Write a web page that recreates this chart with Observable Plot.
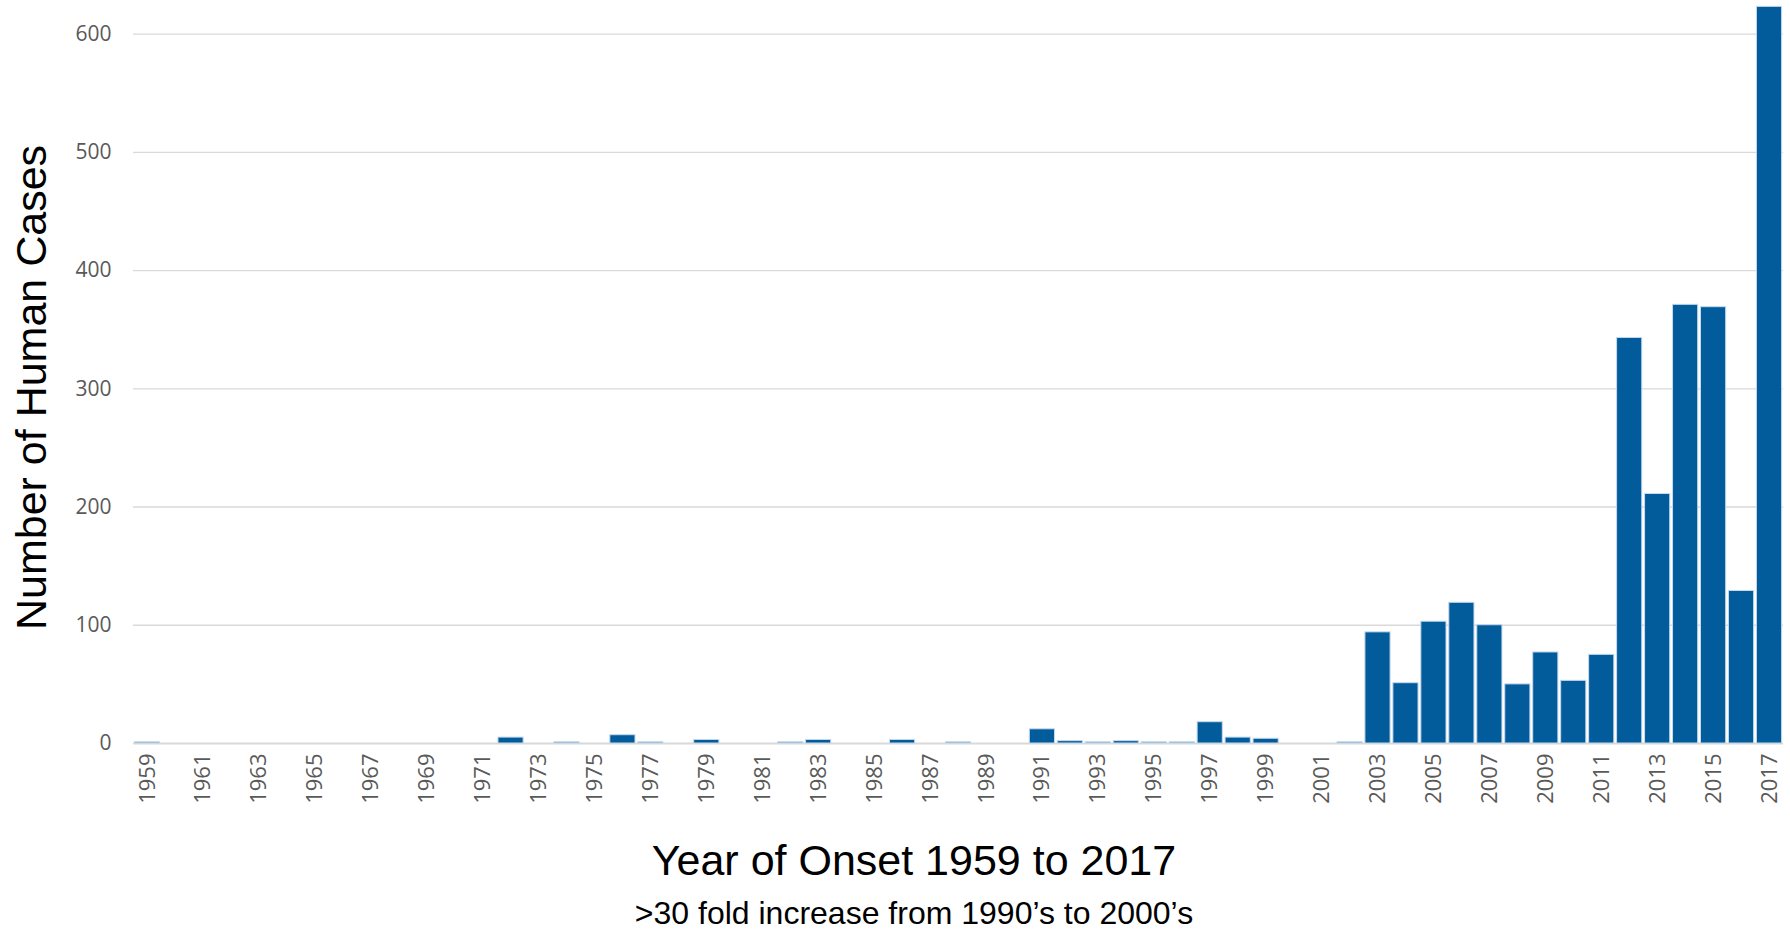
<!DOCTYPE html>
<html>
<head>
<meta charset="utf-8">
<script src="https://cdn.jsdelivr.net/npm/d3@7"></script>
<script src="https://cdn.jsdelivr.net/npm/@observablehq/plot@0.6"></script>
<style>
  html, body { margin: 0; padding: 0; background: #ffffff; overflow: hidden; }
  #chart svg { display: block; }
  .xtitle { font-family: "Liberation Sans", Arial, sans-serif; font-size: 43px; line-height: 43px; color: #000; text-align: center; padding-left: 38px; margin-top: 29px; white-space: nowrap; }
  .sub { font-family: "Liberation Sans", Arial, sans-serif; font-size: 32px; line-height: 32px; color: #000; text-align: center; padding-left: 38px; margin-top: 15px; white-space: nowrap; }
</style>
</head>
<body>
<div id="chart"></div>
<div class="xtitle">Year of Onset 1959 to 2017</div>
<div class="sub">&gt;30 fold increase from 1990’s to 2000’s</div>
<script>
const years = [1959,1960,1961,1962,1963,1964,1965,1966,1967,1968,1969,1970,1971,1972,1973,1974,1975,1976,1977,1978,1979,1980,1981,1982,1983,1984,1985,1986,1987,1988,1989,1990,1991,1992,1993,1994,1995,1996,1997,1998,1999,2000,2001,2002,2003,2004,2005,2006,2007,2008,2009,2010,2011,2012,2013,2014,2015,2016,2017];
const cases = [1,0,0,0,0,0,0,0,0,0,0,0,0,5,0,1,0,7,1,0,3,0,0,1,3,0,0,3,0,1,0,0,12,2,1,2,1,1,18,5,4,0,0,1,94,51,103,119,100,50,77,53,75,343,211,371,369,129,623];
const yearTicks = [1959,1961,1963,1965,1967,1969,1971,1973,1975,1977,1979,1981,1983,1985,1987,1989,1991,1993,1995,1997,1999,2001,2003,2005,2007,2009,2011,2013,2015,2017];
const valueTicks = [0,100,200,300,400,500,600];
const yLabel = "Number of Human Cases";

const data = years.map((year, i) => ({year, cases: cases[i]}));

const chart = Plot.plot({
  width: 1790,
  height: 810,
  marginLeft: 133,
  marginRight: 7,
  marginTop: 4,
  marginBottom: 67,
  x: {type: "band", domain: years, paddingInner: 0.1, paddingOuter: 0.05, label: null},
  y: {domain: [0, 625], label: null},
  style: {fontFamily: "'Open Sans', sans-serif", fontSize: "21px", color: "#595959", background: "#ffffff", overflow: "visible"},
  marks: [
    Plot.gridY(valueTicks.filter(d => d > 0), {stroke: "#d9d9d9", strokeOpacity: 1, strokeWidth: 1.3}),
    Plot.ruleY([0], {stroke: "#d9d9d9", strokeWidth: 2}),
    Plot.barY(data.filter(d => d.cases > 0), {x: "year", y: "cases", fill: "#025b9b", stroke: "#c6d9ec", strokeWidth: 1}),
    Plot.axisY({ticks: valueTicks, tickSize: 0, tickPadding: 22, label: null, fontSize: 21, tickFormat: d => String(d)}),
    Plot.axisX({ticks: yearTicks, tickSize: 0, tickPadding: 10, tickRotate: -90, label: null, fontSize: 22, tickFormat: d => String(d)}),
    Plot.text([yLabel], {text: d => d, frameAnchor: "left", textAnchor: "middle", rotate: -90, dx: -101, dy: 13.5, fontSize: 43, fontFamily: "'Liberation Sans', Arial, sans-serif", fill: "#000"})
  ]
});
document.getElementById("chart").appendChild(chart);
</script>
</body>
</html>
